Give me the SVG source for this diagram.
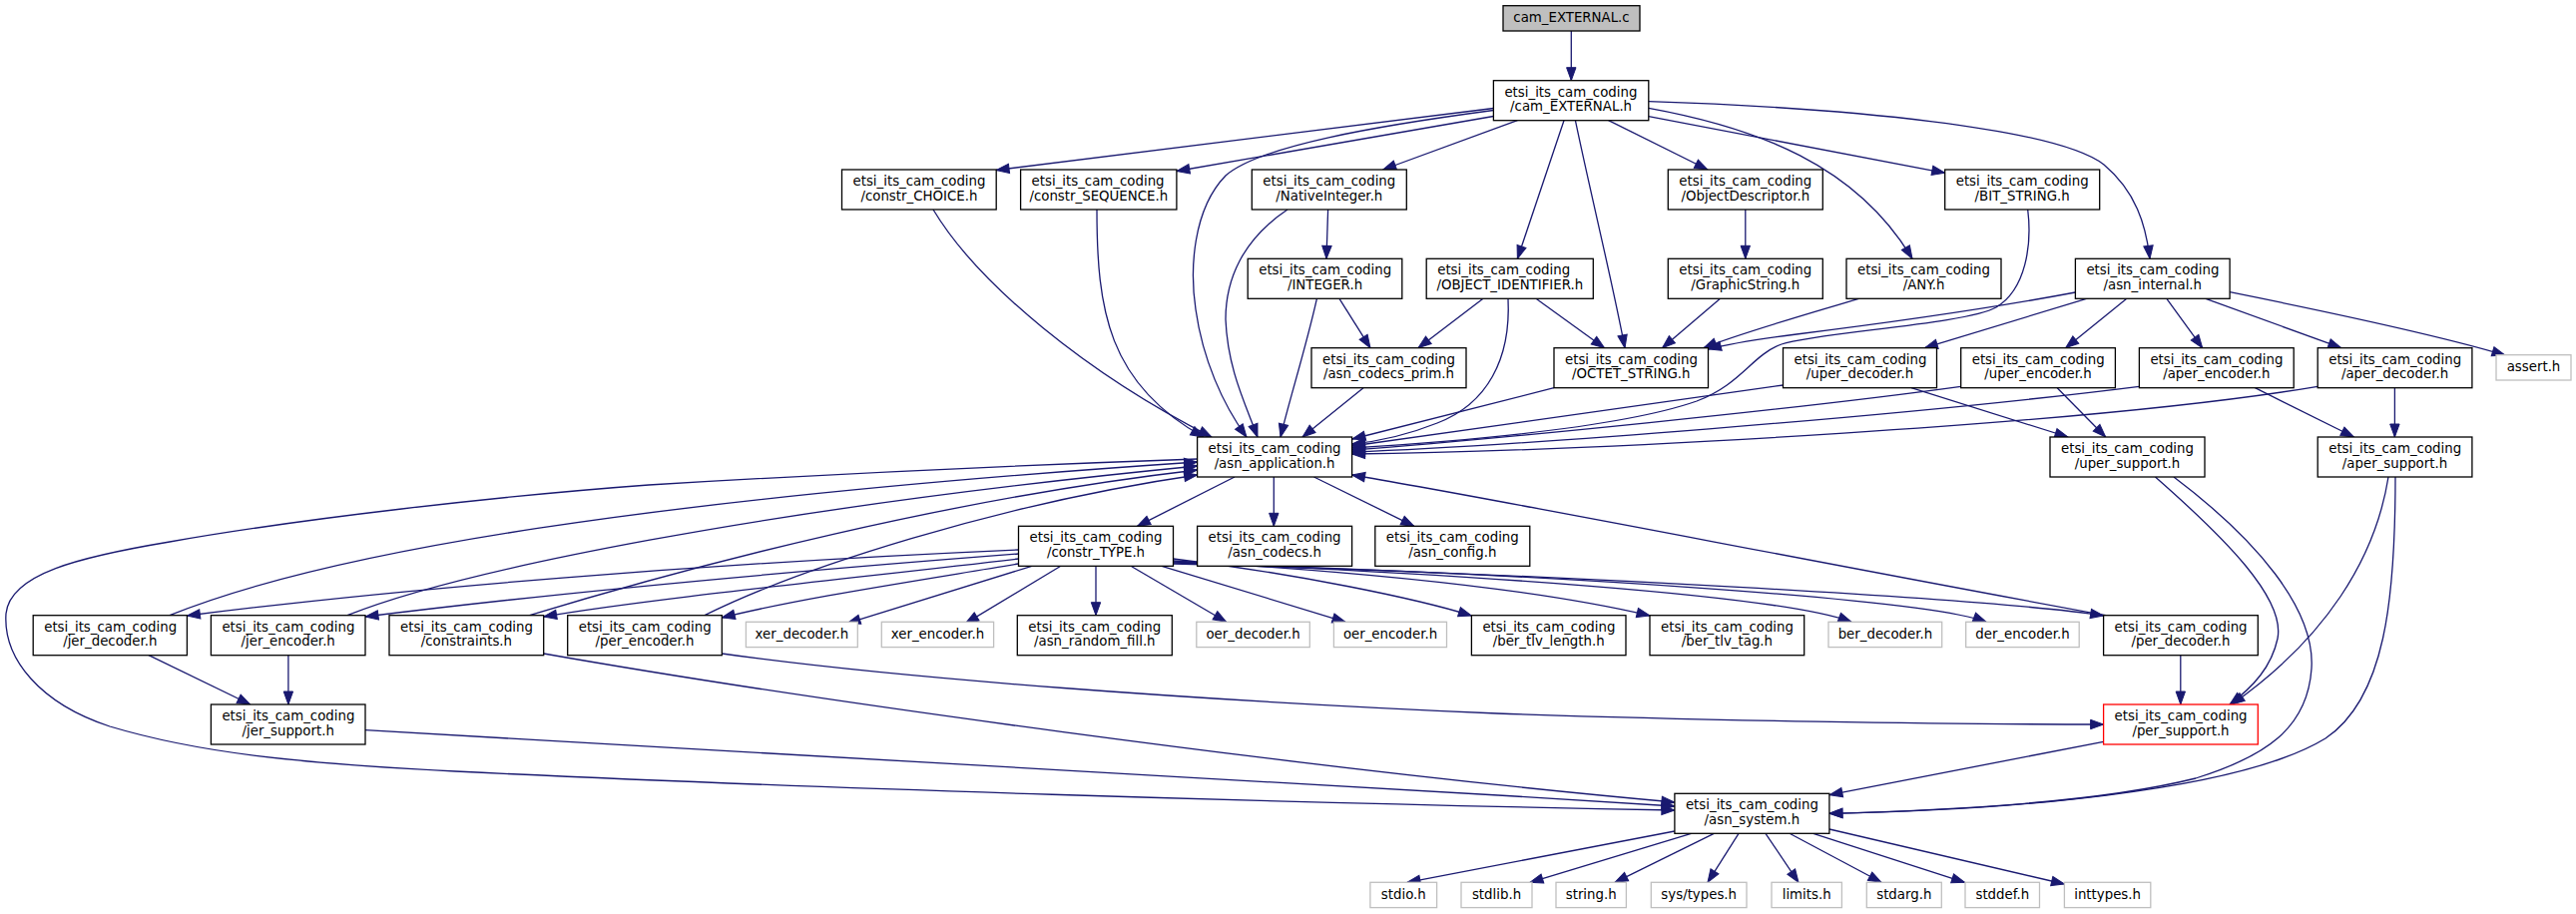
<svg xmlns="http://www.w3.org/2000/svg" width="2581" height="916" viewBox="0 0 2581 916">
<style>
.nd rect{fill:#fff;stroke:#000;stroke-width:1.3}
.ex rect{stroke:#bfbfbf}
.rt rect{fill:#bfbfbf}
.tr rect{stroke:#ff0000}
text{font-family:"DejaVu Sans",sans-serif;font-size:13.33px;fill:#000}
.c{text-anchor:middle}
#edges path{fill:none;stroke:#191970;stroke-width:1.3;marker-end:url(#ah)}
</style>
<defs>
<marker id="ah" markerUnits="userSpaceOnUse" markerWidth="16" markerHeight="12" refX="13" refY="5" orient="auto" viewBox="-1 0 16 10" overflow="visible">
<path d="M0,0.3 L13,5 L0,9.7 z" fill="#191970" stroke="#191970" stroke-width="1"/>
</marker>
</defs>
<rect x="0" y="0" width="2581" height="916" fill="#fff"/>
<g id="edges">
<path d="M1574.3,31 L1574.3,80.7"/>
<path d="M1496.4,108.5 L998.1,170.5"/>
<path d="M1496.4,116.5 L1178.9,171.5"/>
<path d="M1520.4,120.7 L1385.7,170"/>
<path d="M1567,120.7 L1520.4,259.3"/>
<path d="M1578.4,120.7 C1595,200 1615,280 1628,348.7"/>
<path d="M1611.6,120.7 L1711,170"/>
<path d="M1651.8,108.3 C1760,128 1860,165 1916,259.3"/>
<path d="M1651.8,116.7 L1948.7,173.3"/>
<path d="M1651.8,101.7 C1850,108 2060,128 2108,165 C2140,192 2150,225 2154,259.3"/>
<path d="M1496.4,110.5 C1380,126 1262,146 1228,176 C1195,210 1192,270 1198,310 C1205,360 1225,405 1249,438"/>
<path d="M1330.6,210 L1329,259.3"/>
<path d="M1290,210 C1245,240 1228,280 1228,320 C1230,370 1248,405 1260,438"/>
<path d="M935,210 C980,285 1090,375 1214,438"/>
<path d="M1099,210 C1099,310 1110,385 1206,438"/>
<path d="M1319.4,299.3 C1308,350 1292,400 1283,438"/>
<path d="M1342,299.3 L1373,348.7"/>
<path d="M1366,388.7 L1305,438"/>
<path d="M1486,299.3 L1421,348.7"/>
<path d="M1539,299.3 L1607.5,348.7"/>
<path d="M1511,299.3 C1514,360 1490,405 1440,424 C1410,436 1385,442 1354.6,445"/>
<path d="M1748.8,210 L1748.8,259.3"/>
<path d="M1723.5,299.3 L1665.5,348.7"/>
<path d="M1862.4,299.3 C1800,318 1740,335 1707,348.7"/>
<path d="M2031.7,210 C2036,245 2030,290 2000,308 C1970,325 1820,333 1785,345 C1755,356 1745,385 1700,402 C1620,430 1450,443 1354.6,449"/>
<path d="M2079.4,293 C2000,308 1880,325 1800,335 C1760,340 1735,344 1711.5,350"/>
<path d="M2093,298.6 L1928.4,348.7"/>
<path d="M2130.8,299.3 L2069.7,348.7"/>
<path d="M2170.9,299.3 L2206.7,348.7"/>
<path d="M2210,299.3 L2345.8,348.7"/>
<path d="M2234.1,292.7 C2330,312 2440,335 2510,356"/>
<path d="M1786.5,386 L1354.6,447"/>
<path d="M1915,388.7 L2072,438"/>
<path d="M1964.7,387.3 C1800,410 1500,440 1354.6,451"/>
<path d="M2061.2,388.7 L2109.7,438"/>
<path d="M2143.4,387.3 C1900,418 1500,448 1354.6,453"/>
<path d="M2259.4,388.7 L2358.5,438"/>
<path d="M2322.2,387.3 C2100,425 1600,452 1354.6,455"/>
<path d="M2399.4,388.7 L2399.4,438"/>
<path d="M1557,388.7 L1355,440"/>
<path d="M1237,478 L1139.5,527.3"/>
<path d="M1276.3,478 L1276.3,527.3"/>
<path d="M1316.5,478 L1416.8,527.3"/>
<path d="M1199.6,460 C1000,467 800,477 650,486 C500,497 300,520 170,543 C80,558 10,575 6,615 C3,660 40,705 110,728 C200,755 300,765 456,773 C800,790 1300,805 1677.9,812"/>
<path d="M170,616.7 C330,552 650,500 1199.6,463"/>
<path d="M348,616.7 C460,572 760,510 1199.6,467"/>
<path d="M530.6,616.7 C700,565 950,500 1199.6,471"/>
<path d="M706,616.7 C800,570 1000,505 1199.6,476"/>
<path d="M1020.5,551 C700,565 400,590 187.4,617"/>
<path d="M1020.5,555 C800,572 550,595 366,618"/>
<path d="M1020.5,560 C850,580 650,600 544.7,618"/>
<path d="M1020.5,565 C900,585 800,600 723.3,619"/>
<path d="M1033.8,567.3 L849,624.6"/>
<path d="M1062.8,567.3 L967.5,624.6"/>
<path d="M1098,567.3 L1098,616.7"/>
<path d="M1133,567.3 L1228.6,623.3"/>
<path d="M1164,567.3 L1348,623.3"/>
<path d="M1175.6,560 C1300,575 1420,600 1474.4,617"/>
<path d="M1175.6,562 C1400,575 1560,595 1653,617"/>
<path d="M1175.6,563 C1450,575 1780,595 1855,623.3"/>
<path d="M1175.6,564 C1550,575 1930,600 1990,623.3"/>
<path d="M1175.6,565 C1550,575 2000,600 2107.6,617"/>
<path d="M2110,616.7 C1800,560 1500,500 1354.6,476"/>
<path d="M2184.8,656.7 L2184.8,706"/>
<path d="M723.3,655 C900,680 1200,702 1500,715 C1700,722 1950,726 2107.6,726"/>
<path d="M149,656.7 L250.8,706"/>
<path d="M288.9,656.7 L288.9,706"/>
<path d="M366,731.7 C700,748 1200,778 1677.9,808"/>
<path d="M544.7,655 C800,700 1300,770 1677.9,804"/>
<path d="M2107.6,743.3 L1833,796.7"/>
<path d="M2159.5,478 C2230,540 2290,600 2282,640 C2276,668 2258,688 2234,706"/>
<path d="M2178,478 C2260,540 2320,610 2316,670 C2312,730 2270,758 2200,780 C2100,805 1950,812 1833,815.3"/>
<path d="M2393,478 C2380,560 2330,640 2236,706"/>
<path d="M2400,478 C2400,600 2390,700 2330,740 C2240,795 2000,812 1833,815.3"/>
<path d="M1677.9,833 L1410,884.3"/>
<path d="M1694.5,835.3 L1533,884.3"/>
<path d="M1717.3,835.3 L1618,884.3"/>
<path d="M1742,835.3 L1711,884.3"/>
<path d="M1769,835.3 L1802,884.3"/>
<path d="M1793,835.3 L1885,884.3"/>
<path d="M1816.8,835.3 L1968.5,884.3"/>
<path d="M1833,831 L2068.4,886"/>
</g>
<g id="n_root" class="nd rt"><rect x="1506" y="5.7" width="137" height="25.3"/><text class="c" x="1574.5" y="22.2">cam_EXTERNAL.c</text></g>
<g id="n_ext_h" class="nd"><rect x="1496.4" y="80.7" width="155.4" height="40"/><text x="1507.4" y="96.7">etsi_its_cam_coding</text><text class="c" x="1574.1" y="111.4">/cam_EXTERNAL.h</text></g>
<g id="n_choice" class="nd"><rect x="843.5" y="170" width="154.7" height="40"/><text x="854.5" y="186">etsi_its_cam_coding</text><text class="c" x="920.9" y="200.7">/constr_CHOICE.h</text></g>
<g id="n_seq" class="nd"><rect x="1022.6" y="170" width="156.3" height="40"/><text x="1033.6" y="186">etsi_its_cam_coding</text><text class="c" x="1100.8" y="200.7">/constr_SEQUENCE.h</text></g>
<g id="n_native" class="nd"><rect x="1254.3" y="170" width="155" height="40"/><text x="1265.3" y="186">etsi_its_cam_coding</text><text class="c" x="1331.8" y="200.7">/NativeInteger.h</text></g>
<g id="n_objdesc" class="nd"><rect x="1671.3" y="170" width="155" height="40"/><text x="1682.3" y="186">etsi_its_cam_coding</text><text class="c" x="1748.8" y="200.7">/ObjectDescriptor.h</text></g>
<g id="n_bitstr" class="nd"><rect x="1948.7" y="170" width="155" height="40"/><text x="1959.7" y="186">etsi_its_cam_coding</text><text class="c" x="2026.2" y="200.7">/BIT_STRING.h</text></g>
<g id="n_integer" class="nd"><rect x="1250.2" y="259.3" width="154.6" height="40"/><text x="1261.2" y="275.3">etsi_its_cam_coding</text><text class="c" x="1327.5" y="290">/INTEGER.h</text></g>
<g id="n_oid" class="nd"><rect x="1429.2" y="259.3" width="167.1" height="40"/><text x="1440.2" y="275.3">etsi_its_cam_coding</text><text class="c" x="1512.8" y="290">/OBJECT_IDENTIFIER.h</text></g>
<g id="n_graphic" class="nd"><rect x="1671.3" y="259.3" width="155" height="40"/><text x="1682.3" y="275.3">etsi_its_cam_coding</text><text class="c" x="1748.8" y="290">/GraphicString.h</text></g>
<g id="n_any" class="nd"><rect x="1850" y="259.3" width="155" height="40"/><text x="1861" y="275.3">etsi_its_cam_coding</text><text class="c" x="1927.5" y="290">/ANY.h</text></g>
<g id="n_internal" class="nd"><rect x="2079.4" y="259.3" width="154.7" height="40"/><text x="2090.4" y="275.3">etsi_its_cam_coding</text><text class="c" x="2156.8" y="290">/asn_internal.h</text></g>
<g id="n_prim" class="nd"><rect x="1314" y="348.7" width="155" height="40"/><text x="1325" y="364.7">etsi_its_cam_coding</text><text class="c" x="1391.5" y="379.4">/asn_codecs_prim.h</text></g>
<g id="n_octet" class="nd"><rect x="1557" y="348.7" width="154.5" height="40"/><text x="1568" y="364.7">etsi_its_cam_coding</text><text class="c" x="1634.3" y="379.4">/OCTET_STRING.h</text></g>
<g id="n_uperdec" class="nd"><rect x="1786.5" y="348.7" width="154" height="40"/><text x="1797.5" y="364.7">etsi_its_cam_coding</text><text class="c" x="1863.5" y="379.4">/uper_decoder.h</text></g>
<g id="n_uperenc" class="nd"><rect x="1964.7" y="348.7" width="154.7" height="40"/><text x="1975.7" y="364.7">etsi_its_cam_coding</text><text class="c" x="2042" y="379.4">/uper_encoder.h</text></g>
<g id="n_aperenc" class="nd"><rect x="2143.4" y="348.7" width="154.8" height="40"/><text x="2154.4" y="364.7">etsi_its_cam_coding</text><text class="c" x="2220.8" y="379.4">/aper_encoder.h</text></g>
<g id="n_aperdec" class="nd"><rect x="2322.2" y="348.7" width="154.7" height="40"/><text x="2333.2" y="364.7">etsi_its_cam_coding</text><text class="c" x="2399.5" y="379.4">/aper_decoder.h</text></g>
<g id="n_assert" class="nd ex"><rect x="2501" y="355.7" width="75" height="25.3"/><text class="c" x="2538.5" y="372.4">assert.h</text></g>
<g id="n_app" class="nd"><rect x="1199.6" y="438" width="155" height="40"/><text x="1210.6" y="454">etsi_its_cam_coding</text><text class="c" x="1277.1" y="468.7">/asn_application.h</text></g>
<g id="n_upersup" class="nd"><rect x="2054" y="438" width="155" height="40"/><text x="2065" y="454">etsi_its_cam_coding</text><text class="c" x="2131.5" y="468.7">/uper_support.h</text></g>
<g id="n_apersup" class="nd"><rect x="2322.2" y="438" width="154.7" height="40"/><text x="2333.2" y="454">etsi_its_cam_coding</text><text class="c" x="2399.5" y="468.7">/aper_support.h</text></g>
<g id="n_type" class="nd"><rect x="1020.5" y="527.3" width="155" height="40"/><text x="1031.5" y="543.3">etsi_its_cam_coding</text><text class="c" x="1098" y="558">/constr_TYPE.h</text></g>
<g id="n_codecs" class="nd"><rect x="1199.6" y="527.3" width="155" height="40"/><text x="1210.6" y="543.3">etsi_its_cam_coding</text><text class="c" x="1277.1" y="558">/asn_codecs.h</text></g>
<g id="n_config" class="nd"><rect x="1377.8" y="527.3" width="155" height="40"/><text x="1388.8" y="543.3">etsi_its_cam_coding</text><text class="c" x="1455.3" y="558">/asn_config.h</text></g>
<g id="n_jerdec" class="nd"><rect x="33.2" y="616.7" width="154.2" height="40"/><text x="44.2" y="632.7">etsi_its_cam_coding</text><text class="c" x="110.3" y="647.4">/jer_decoder.h</text></g>
<g id="n_jerenc" class="nd"><rect x="211.4" y="616.7" width="154.6" height="40"/><text x="222.4" y="632.7">etsi_its_cam_coding</text><text class="c" x="288.7" y="647.4">/jer_encoder.h</text></g>
<g id="n_constraints" class="nd"><rect x="390" y="616.7" width="154.7" height="40"/><text x="401" y="632.7">etsi_its_cam_coding</text><text class="c" x="467.4" y="647.4">/constraints.h</text></g>
<g id="n_perenc" class="nd"><rect x="568.7" y="616.7" width="154.6" height="40"/><text x="579.7" y="632.7">etsi_its_cam_coding</text><text class="c" x="646" y="647.4">/per_encoder.h</text></g>
<g id="n_xerdec" class="nd ex"><rect x="747.4" y="623.3" width="111.9" height="25.3"/><text class="c" x="803.4" y="640">xer_decoder.h</text></g>
<g id="n_xerenc" class="nd ex"><rect x="883.3" y="623.3" width="112.3" height="25.3"/><text class="c" x="939.5" y="640">xer_encoder.h</text></g>
<g id="n_random" class="nd"><rect x="1019.3" y="616.7" width="155" height="40"/><text x="1030.3" y="632.7">etsi_its_cam_coding</text><text class="c" x="1096.8" y="647.4">/asn_random_fill.h</text></g>
<g id="n_oerdec" class="nd ex"><rect x="1198.8" y="623.3" width="113.5" height="25.3"/><text class="c" x="1255.6" y="640">oer_decoder.h</text></g>
<g id="n_oerenc" class="nd ex"><rect x="1336.4" y="623.3" width="113.1" height="25.3"/><text class="c" x="1393" y="640">oer_encoder.h</text></g>
<g id="n_tlvlen" class="nd"><rect x="1474.4" y="616.7" width="154.6" height="40"/><text x="1485.4" y="632.7">etsi_its_cam_coding</text><text class="c" x="1551.7" y="647.4">/ber_tlv_length.h</text></g>
<g id="n_tlvtag" class="nd"><rect x="1653" y="616.7" width="154.7" height="40"/><text x="1664" y="632.7">etsi_its_cam_coding</text><text class="c" x="1730.4" y="647.4">/ber_tlv_tag.h</text></g>
<g id="n_berdec" class="nd ex"><rect x="1832" y="623.3" width="113.7" height="25.3"/><text class="c" x="1888.9" y="640">ber_decoder.h</text></g>
<g id="n_derenc" class="nd ex"><rect x="1969.7" y="623.3" width="113.5" height="25.3"/><text class="c" x="2026.5" y="640">der_encoder.h</text></g>
<g id="n_perdec" class="nd"><rect x="2107.6" y="616.7" width="154.7" height="40"/><text x="2118.6" y="632.7">etsi_its_cam_coding</text><text class="c" x="2185" y="647.4">/per_decoder.h</text></g>
<g id="n_jersup" class="nd"><rect x="211.4" y="706" width="154.6" height="40"/><text x="222.4" y="722">etsi_its_cam_coding</text><text class="c" x="288.7" y="736.7">/jer_support.h</text></g>
<g id="n_persup" class="nd tr"><rect x="2107.6" y="706" width="154.7" height="40"/><text x="2118.6" y="722">etsi_its_cam_coding</text><text class="c" x="2185" y="736.7">/per_support.h</text></g>
<g id="n_system" class="nd"><rect x="1677.9" y="795.3" width="155" height="40"/><text x="1688.9" y="811.3">etsi_its_cam_coding</text><text class="c" x="1755.4" y="826">/asn_system.h</text></g>
<g id="n_stdio" class="nd ex"><rect x="1372.9" y="884.3" width="66.7" height="25.3"/><text class="c" x="1406.3" y="901">stdio.h</text></g>
<g id="n_stdlib" class="nd ex"><rect x="1464" y="884.3" width="71" height="25.3"/><text class="c" x="1499.5" y="901">stdlib.h</text></g>
<g id="n_string" class="nd ex"><rect x="1559" y="884.3" width="70.4" height="25.3"/><text class="c" x="1594.2" y="901">string.h</text></g>
<g id="n_systypes" class="nd ex"><rect x="1654.3" y="884.3" width="95.7" height="25.3"/><text class="c" x="1702.2" y="901">sys/types.h</text></g>
<g id="n_limits" class="nd ex"><rect x="1775" y="884.3" width="70.4" height="25.3"/><text class="c" x="1810.2" y="901">limits.h</text></g>
<g id="n_stdarg" class="nd ex"><rect x="1870.3" y="884.3" width="75" height="25.3"/><text class="c" x="1907.8" y="901">stdarg.h</text></g>
<g id="n_stddef" class="nd ex"><rect x="1969" y="884.3" width="74.5" height="25.3"/><text class="c" x="2006.3" y="901">stddef.h</text></g>
<g id="n_inttypes" class="nd ex"><rect x="2068.4" y="884.3" width="86.4" height="25.3"/><text class="c" x="2111.6" y="901">inttypes.h</text></g>
</svg>
